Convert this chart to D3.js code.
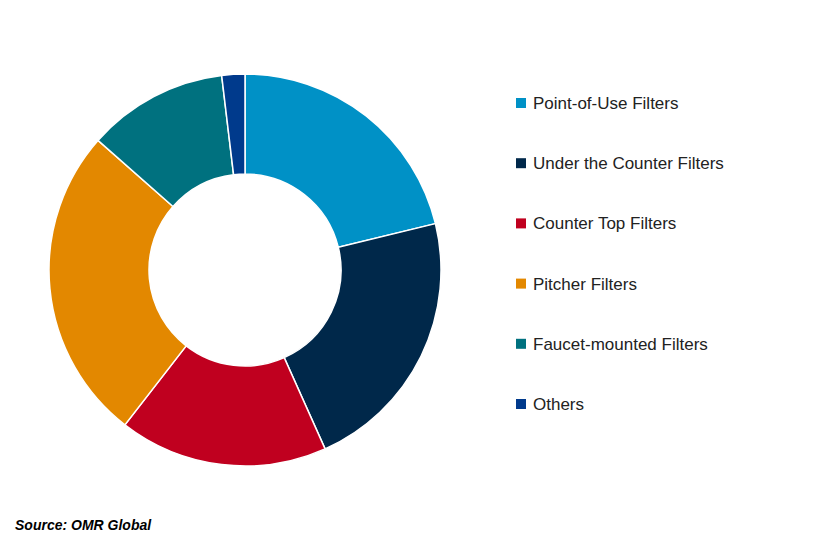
<!DOCTYPE html>
<html><head><meta charset="utf-8">
<script src="https://cdn.jsdelivr.net/npm/d3@7"></script>
<style>body{margin:0;background:#fff}</style></head>
<body><svg id="c" width="818" height="541"></svg>
<script>
const categories=["Point-of-Use Filters","Under the Counter Filters","Counter Top Filters","Pitcher Filters","Faucet-mounted Filters","Others"];
const values=[21.2,22.1,17.2,26.0,11.6,1.9];
const colors=["#0091C6","#00284A","#C0001F","#E38800","#00717F","#003A8C"];
const svg=d3.select("#c");
const g=svg.append("g").attr("transform","translate(245,270)");
const pie=d3.pie().sort(null).value(d=>d);
const arc=d3.arc().innerRadius(96).outerRadius(196);
g.selectAll("path").data(pie(values)).join("path").attr("d",arc)
 .attr("fill",(d,i)=>colors[i]).attr("stroke","#fff").attr("stroke-width",1.5);
const y=d3.scalePoint().domain(categories).range([103,404]);
const lg=svg.append("g");
categories.forEach((c,i)=>{
 lg.append("rect").attr("x",516).attr("y",y(c)-5).attr("width",10).attr("height",10).attr("fill",colors[i]);
 lg.append("text").attr("x",533).attr("y",y(c)).attr("dy","0.35em").attr("font-family","Liberation Sans, Arial").attr("font-size",17).attr("fill","#222").text(c);
});
svg.append("text").attr("x",15).attr("y",530).attr("font-family","Liberation Sans, Arial").attr("font-size",14).attr("font-weight","bold").attr("font-style","italic").text("Source: OMR Global");
</script></body></html>
